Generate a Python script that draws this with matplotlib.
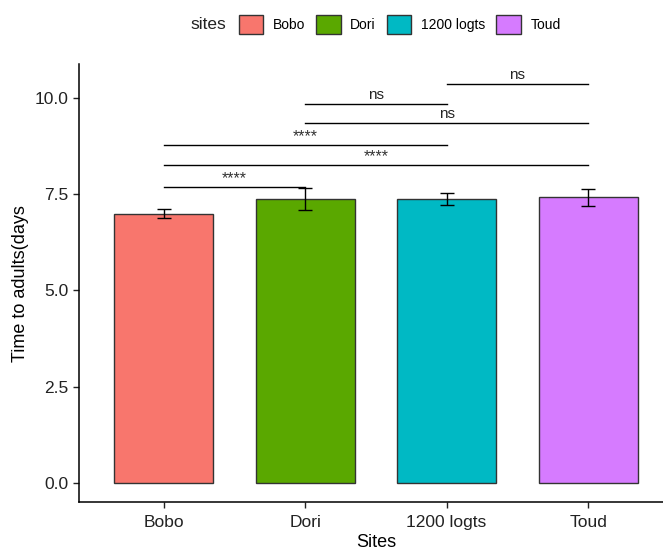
import numpy as np
import matplotlib
matplotlib.use("Agg")
import matplotlib.pyplot as plt
from matplotlib.patches import Patch

plt.rcParams['font.family'] = ['Liberation Sans', 'DejaVu Sans']

# data
sites = ['Bobo', 'Dori', '1200 logts', 'Toud']
means = [7.00, 7.38, 7.39, 7.44]
err_low = [6.88, 7.08, 7.23, 7.20]
err_high = [7.11, 7.66, 7.53, 7.64]
colors = ['#F8766D', '#5AA800', '#00B9C4', '#D67BFF']

# pairwise comparisons: (first, second, bracket height, label)
pairs_a = ['Bobo', 'Bobo', 'Bobo', 'Dori', 'Dori', '1200 logts']
pairs_b = ['Dori', 'Toud', '1200 logts', 'Toud', '1200 logts', 'Toud']
bracket_y = [7.68, 8.27, 8.78, 9.36, 9.85, 10.36]
labels = ['****', '****', '****', 'ns', 'ns', 'ns']

fig = plt.figure(figsize=(6.63, 5.51), dpi=100)
ax = fig.add_axes([0.1187, 0.0889, 0.8964, 0.7944])

x = np.arange(1, len(sites) + 1)
ax.bar(x, means, width=0.7, color=colors, edgecolor='#333333', linewidth=1.0, zorder=2)
lo = np.array(means) - np.array(err_low)
hi = np.array(err_high) - np.array(means)
ax.errorbar(x, means, yerr=[lo, hi], fmt='none', ecolor='black', elinewidth=1.0,
            capsize=5, capthick=1.0, zorder=3)

pos = dict(zip(sites, x))
for a, b, yy, lab in zip(pairs_a, pairs_b, bracket_y, labels):
    x1, x2 = pos[a], pos[b]
    ax.plot([x1, x2], [yy, yy], color='black', linewidth=1.0, zorder=3)
    if lab == 'ns':
        ax.text((x1 + x2) / 2, yy + 0.05, lab, ha='center', va='bottom', fontsize=11, color='#222222')
    else:
        ax.text((x1 + x2) / 2, yy + 0.02, lab, ha='center', va='bottom', fontsize=11.5, color='#333333')

ax.set_xlim(0.4, 4.6)
ax.set_ylim(-0.50, 10.88)
ax.set_xticks(x)
ax.set_xticklabels(sites)
ax.set_yticks([0, 2.5, 5.0, 7.5, 10.0])
ax.set_yticklabels(['0.0', '2.5', '5.0', '7.5', '10.0'])
ax.tick_params(labelsize=12.5, colors='#222222', length=4, width=1)
ax.tick_params(axis='x', pad=5)
ax.spines['top'].set_visible(False)
ax.spines['right'].set_visible(False)
ax.spines['left'].set_linewidth(1.1)
ax.spines['bottom'].set_linewidth(1.1)
ax.set_xlabel('Sites', fontsize=13, labelpad=3)
ax.set_ylabel('Time to adults(days', fontsize=13, labelpad=4)

handles = [Patch(facecolor=c, edgecolor='#333333', linewidth=1.0) for c in colors]
fig.text(0.287, 0.956, 'sites', fontsize=12.5, ha='left', va='center', color='#222222')
fig.legend(handles, sites, loc='center', bbox_to_anchor=(0.603, 0.956), ncol=4, frameon=False,
           fontsize=10, handlelength=1.75, handleheight=1.75, handletextpad=0.7,
           columnspacing=0.8, borderpad=0)

fig.savefig('out.png', dpi=100)
